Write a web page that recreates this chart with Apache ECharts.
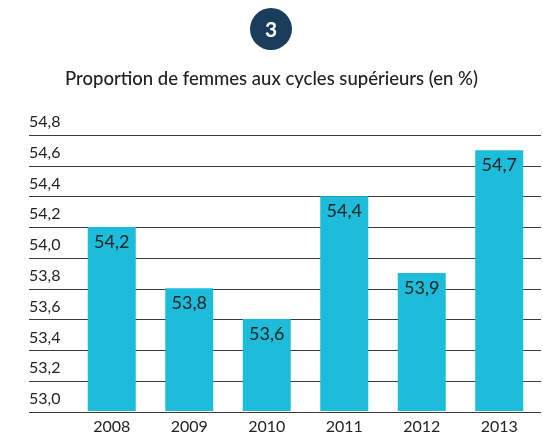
<!DOCTYPE html>
<html>
<head>
    <meta charset="utf-8">
    <title>Proportion de femmes</title>
    <script src="https://cdn.jsdelivr.net/npm/echarts@6/dist/echarts.min.js"></script>
    <style>
        html, body { margin: 0; padding: 0; background: #fff; }
    </style>
</head>
<body>
<div id="bar-chart" style="width: 543px; height: 435px;"></div>
<script>
    // données
    var years = ['2008', '2009', '2010', '2011', '2012', '2013'];
    var values = [54.2, 53.8, 53.6, 54.4, 53.9, 54.7];
    var yMin = 53.0, yMax = 54.8, yStep = 0.2;

    var barChart = echarts.init(document.getElementById('bar-chart'));

    function virgule(v) {
        return v.toFixed(1).replace('.', ',');
    }

    var txt = '#222';
    var font = 'Lato';

    var option = {
        animation: false,
        title: {
            text: 'Proportion de femmes aux cycles supérieurs (en %)',
            left: 'center',
            top: 65,
            textStyle: { color: txt, fontFamily: font, fontSize: 18.5, fontWeight: 500 }
        },
        graphic: [{
            type: 'circle',
            shape: { cx: 271, cy: 29, r: 21 },
            style: { fill: '#1b3d5c' }
        }, {
            type: 'text',
            x: 271, y: 30,
            style: {
                text: '3', fill: '#fff', fontFamily: font, fontSize: 21, fontWeight: 'bold',
                align: 'center', verticalAlign: 'middle'
            }
        }],
        grid: [
            { left: 29, right: 2, top: 135, bottom: 23 },
            { left: 73, right: 5, top: 135, bottom: 23 }
        ],
        xAxis: [
            { gridIndex: 0, type: 'value', show: false, min: 0, max: 1 },
            {
                gridIndex: 1, type: 'category', data: years,
                axisLine: { show: false }, axisTick: { show: false },
                axisLabel: { color: txt, fontFamily: font, fontSize: 16, margin: 8 }
            }
        ],
        yAxis: [
            {
                gridIndex: 0, type: 'value', min: yMin, max: yMax, interval: yStep,
                axisLine: { show: false }, axisTick: { show: false },
                splitLine: { lineStyle: { color: '#3a3a3a', width: 1 } },
                axisLabel: {
                    color: txt, fontFamily: font, fontSize: 16, margin: 0,
                    align: 'left', verticalAlign: 'bottom', padding: [0, 0, 5, 0],
                    formatter: virgule
                }
            },
            { gridIndex: 1, type: 'value', min: yMin, max: yMax, show: false }
        ],
        series: [{
            type: 'bar',
            xAxisIndex: 1,
            yAxisIndex: 1,
            data: values,
            barWidth: 48,
            itemStyle: { color: '#1ebcdb' },
            label: {
                show: true, position: 'insideTop', distance: 6,
                color: txt, fontFamily: font, fontSize: 18,
                formatter: function (p) { return virgule(p.value); }
            }
        }]
    };

    barChart.setOption(option);
</script>
</body>
</html>
